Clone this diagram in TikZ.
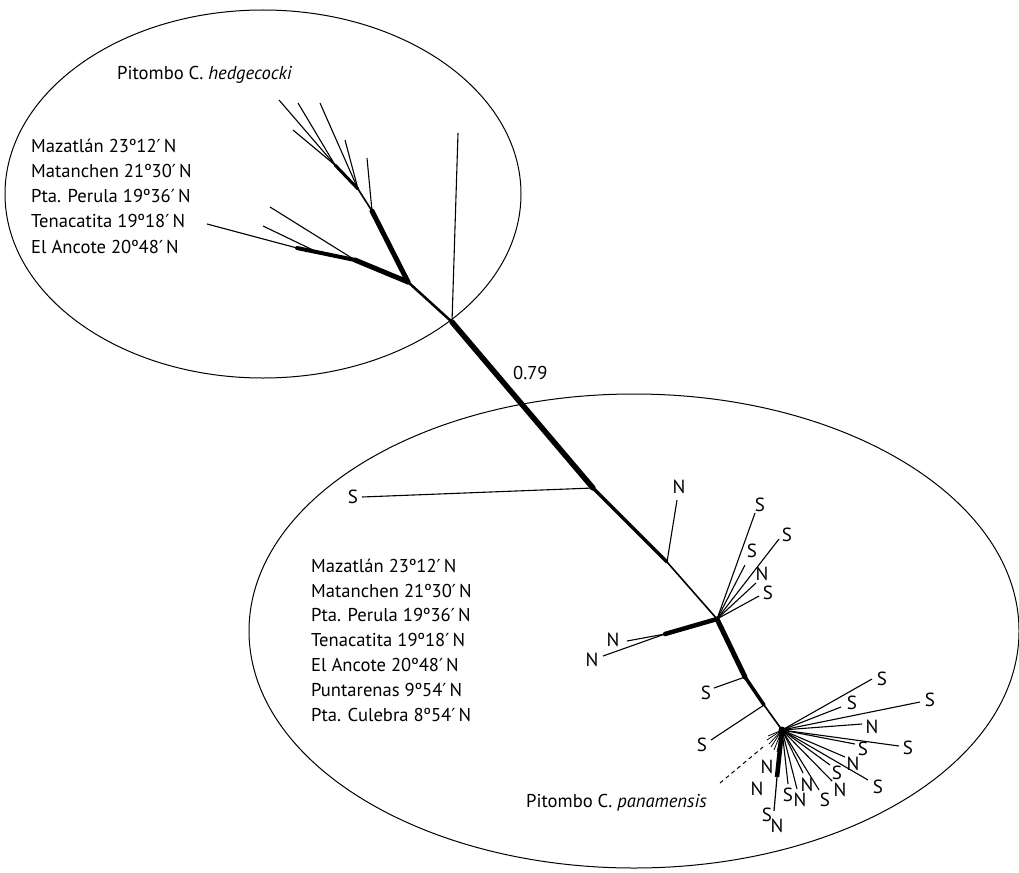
\documentclass[tikz,border=0pt]{standalone}
\usepackage{fontspec}
\setmainfont{PT Sans}
\newfontfamily\dvfont{DejaVu Sans}
\newcommand{\mypr}{{\dvfont\fontsize{18}{18}\selectfont ′}}
\begin{document}
\begin{tikzpicture}[x=1pt,y=-1pt,
  tn/.style={line width=1.1pt},
  vt/.style={line width=1.6pt},
  md/.style={line width=3pt,line cap=round},
  tk/.style={line width=5pt,line cap=round},
  oval/.style={line width=1pt},
  lab/.style={font=\fontsize{19}{21}\selectfont,inner sep=0pt},
  txt/.style={font=\fontsize{18.6}{21}\selectfont,inner sep=0pt,anchor=base west}]
\useasboundingbox (0,0) rectangle (1019,872);
% ellipses
\draw[oval] (263,194) ellipse [x radius=258pt, y radius=184pt];
\draw[oval] (634,631) ellipse [x radius=385pt, y radius=237pt];
% internal nodes
\coordinate (A) at (408,282);
\coordinate (B) at (452,322);
\coordinate (C) at (593,488);
\coordinate (D) at (667,562);
\coordinate (E) at (717,619);
\coordinate (F) at (665,634);
\coordinate (G) at (745,677);
\coordinate (H) at (764,705);
\coordinate (I) at (782,730);
\coordinate (J) at (372,211);
\coordinate (K) at (355,260);
\coordinate (L) at (297,248);
\coordinate (M) at (358,189);
\coordinate (Nn) at (335,165);
\coordinate (Kb) at (315,251);
% spine
\draw[md,line width=2.5pt] (A) -- (B);
\draw[tk,line width=5.5pt] (B) -- (C);
\draw[md,line width=3.5pt] (C) -- (D);
\draw[vt] (D) -- (E);
\draw[tk,line width=4.5pt] (E) -- (F);
\draw[tk,line width=5pt] (E) -- (G);
\draw[md,line width=3.5pt] (G) -- (H);
\draw[vt] (H) -- (I);
% top clade
\draw[tk] (A) -- (J);
\draw[tk] (A) -- (K);
\draw[md,line width=4pt] (K) -- (L);
\draw[vt] (J) -- (M);
\draw[md] (M) -- (Nn);
\coordinate (t1) at (458,133);
\coordinate (t2) at (270,207);
\coordinate (t3) at (263,226);
\coordinate (t4) at (207,224);
\coordinate (t5) at (367,158);
\coordinate (t6) at (320,103);
\coordinate (t7) at (345,140);
\coordinate (t8) at (279,100);
\coordinate (t9) at (298,103);
\coordinate (t10) at (293,130);
\draw[tn] (B) -- (t1);
\draw[tn] (K) -- (t2);
\draw[tn] (Kb) -- (t3);
\draw[tn] (L) -- (t4);
\draw[tn] (J) -- (t5);
\draw[tn] (M) -- (t6);
\draw[tn] (M) -- (t7);
\draw[tn] (Nn) -- (t8);
\draw[tn] (Nn) -- (t9);
\draw[tn] (Nn) -- (t10);
% texts top
\node[txt] (h0) at (117,80) {Pitombo C. \textit{hedgecocki}};
\node[txt] (a1) at (31,152) {Mazatlán 23º12\mypr\,N};
\node[txt] (a2) at (31,177) {Matanchen 21º30\mypr\,N};
\node[txt] (a3) at (31,202) {Pta. Perula 19º36\mypr\,N};
\node[txt] (a4) at (31,227) {Tenacatita 19º18\mypr\,N};
\node[txt] (a5) at (31,253) {El Ancote 20º48\mypr\,N};
\node[txt] (v79) at (513,379) {0.79};
% texts bottom
\node[txt] (b1) at (311,572) {Mazatlán 23º12\mypr\,N};
\node[txt] (b2) at (311,597) {Matanchen 21º30\mypr\,N};
\node[txt] (b3) at (311,621) {Pta. Perula 19º36\mypr\,N};
\node[txt] (b4) at (311,646) {Tenacatita 19º18\mypr\,N};
\node[txt] (b5) at (311,671) {El Ancote 20º48\mypr\,N};
\node[txt] (b6) at (311,696) {Puntarenas 9º54\mypr\,N};
\node[txt] (b7) at (311,721) {Pta. Culebra 8º54\mypr\,N};
\node[txt] (p0) at (526,807) {Pitombo C. \textit{panamensis}};
% mid leaves
\foreach \n/\ex/\ey/\pp in {
  s1/362/497/C,
  n1/677/500/D,
  s2/755/513/E,
  s3/745/565/E,
  s4/779/539/E,
  n2/756/583/E,
  s5/759/596/E,
  n3/627/641/F,
  n4/603/656/F,
  s6/714/688/G,
  s7/711/740/H,
  s8/872/679/I,
  s9/841/707/I,
  s10/920/702/I,
  n5/862/724/I,
  s11/899/746/I,
  s12/855/744/I,
  n6/845/757/I,
  s13/830/765/I,
  s14/868/780/I,
  n7/832/781/I,
  s15/819/790/I,
  n8/803/773/I,
  n9/797/789/I,
  s16/788/784/I}{
  \coordinate (e\n) at (\ex,\ey);
  \draw[tn] (\pp) -- (e\n);
}
\foreach \n/\lx/\ly/\t in {
  s1/353/497/S, n1/679/487/N, s2/760/505/S, s3/752/551/S, s4/787/535/S,
  n2/762/574/N, s5/768/593/S, n3/613/640/N, n4/592/660/N, s6/706/693/S,
  s7/702/745/S, s8/882/679/S, s9/852/703/S, s10/930/700/S, n5/872/727/N,
  s11/908/748/S, s12/863/749/S, n6/853/764/N, s13/837/773/S, s14/878/787/S,
  n7/840/790/N, s15/825/800/S, n8/807/785/N, n9/800/800/N, s16/788/795/S,
  n10/767/767/N, n11/757/789/N, s17/767/815/S, n12/777/826/N}{
  \node[lab] (L\n) at (\lx,\ly) {\t};
}
% stem below hub
\coordinate (st) at (777,777);
\coordinate (sb) at (774,811);
\draw[line width=4.5pt] (I) -- (st);
\draw[line width=1.2pt] (st) -- (sb);
% hub blob and short ticks
\fill (I) circle (3.5pt);
\foreach \k/\tx/\ty in {1/768/736, 2/767/740, 3/769/744, 4/771/747, 5/774/750, 6/777/752, 7/780/753}{
  \coordinate (tk\k) at (\tx,\ty);
  \draw[line width=0.8pt] (I) -- (tk\k);
}
% dashed pointer
\coordinate (d1) at (720,783);
\coordinate (d2) at (763,747);
\draw[line width=1pt,dash pattern=on 4pt off 3.5pt] (d1) -- (d2);
\end{tikzpicture}
\end{document}
